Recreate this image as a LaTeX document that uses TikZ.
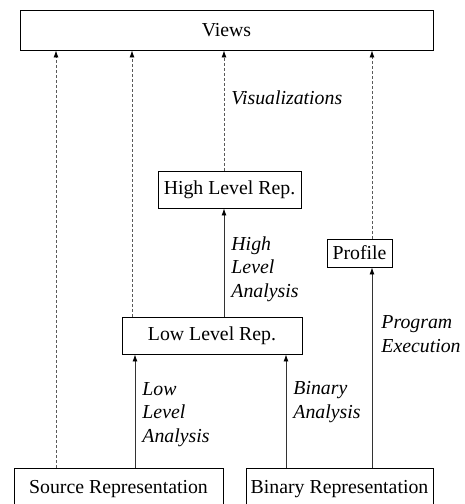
\documentclass[tikz,border=0pt]{standalone}
\usepackage{fontspec}
\setmainfont{Liberation Serif}
\usetikzlibrary{arrows.meta}
\begin{document}
\begin{tikzpicture}[x=1pt,y=-1pt,
  every node/.style={font=\fontsize{19.8}{23.5}\selectfont},
  box/.style={draw, line width=0.9pt, inner sep=0pt, anchor=center},
  flow/.style={line width=0.9pt, draw=black!80, -{Latex[length=7pt,width=5pt,color=black]}},
  viz/.style={line width=0.9pt, draw=black!65, dash pattern=on 3pt off 2pt,
    -{Latex[length=7pt,width=5pt,color=black]}},
  lab/.style={font=\fontsize{19.8}{23.5}\selectfont\itshape, align=left,
    anchor=west, inner sep=0pt, xshift=7pt}]
\useasboundingbox[clip] (0,0) rectangle (465,504);
\fill[white] (0,0) rectangle (465,504);

% representations
\node[box, minimum width=413pt, minimum height=40pt] (views) at (226.5,30) {Views};
\node[box, minimum width=143pt, minimum height=37pt] (high) at (229.5,189.5) {High Level Rep.};
\node[box, minimum width=65pt, minimum height=28pt] (prof) at (359.5,253) {Profile};
\node[box, minimum width=180pt, minimum height=37pt] (low) at (212,335.5) {Low Level Rep.};
\node[box, minimum width=209pt, minimum height=42pt] (src) at (118.5,489) {Source Representation};
\node[box, minimum width=187pt, minimum height=42pt] (bin) at (339.5,489) {Binary Representation};

% analyses
\draw[flow] (src.north -| 135,0) -- (low.south -| 135,0)
  node[lab, pos=0.47] {Low\\Level\\Analysis};
\draw[flow] (bin.north -| 286,0) -- (low.south -| 286,0)
  node[lab, pos=0.58] {Binary\\Analysis};
\draw[flow] (bin.north -| 372,0) -- (prof.south -| 372,0)
  node[lab, pos=0.667, xshift=2pt] {Program\\Execution};
\draw[flow] (low.north -| 224,0) -- (high.south -| 224,0)
  node[lab, pos=0.44] {High\\Level\\Analysis};

% visualizations
\draw[viz] (src.north -| 56,0) -- (views.south -| 56,0);
\draw[viz] (low.north -| 132,0) -- (views.south -| 132,0);
\draw[viz] (high.north -| 224,0) -- (views.south -| 224,0)
  node[lab, pos=0.61] {Visualizations};
\draw[viz] (prof.north -| 372,0) -- (views.south -| 372,0);
\end{tikzpicture}
\end{document}
